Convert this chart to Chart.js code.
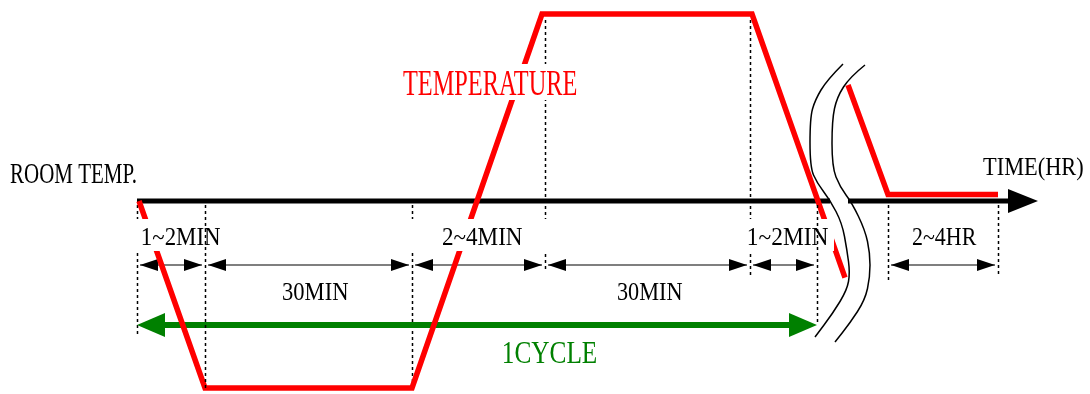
<!DOCTYPE html>
<html>
<head>
<meta charset="utf-8">
<script src="https://cdn.jsdelivr.net/npm/chart.js@4"></script>
<style>
  body { margin: 0; background: #fff; }
  #wrap { width: 1090px; height: 394px; }
</style>
</head>
<body>
<div id="wrap"><canvas id="cycleChart" width="1090" height="394"></canvas></div>
<script>
// schematic time units (not proportional to real minutes), temperature: 0 = room, 1 = high, -1 = low
const cycleTime = [2, 68, 275, 405, 615, 708];
const cycleTemp = [0, -1, -1, 1, 1, -0.41];
const soakTime = [711, 751, 861];
const soakTemp = [0.62, 0.035, 0.035];

// boundaries of the steps (dashed guides)
const markTimes = [0, 68, 275, 408, 613, 680, 751, 861];
const spanLabels = ['1~2MIN', '30MIN', '2~4MIN', '30MIN', '1~2MIN', '2~4HR'];
const spanPairs = [[0, 1], [1, 2], [2, 3], [3, 4], [4, 5], [6, 7]];
const cycleLabel = '1CYCLE';
const axisLabels = ['ROOM TEMP.', 'TIME(HR)'];
const seriesLabel = 'TEMPERATURE';

const RED = '#ff0000';
const GREEN = '#008000';
const FONT = '"Liberation Serif", "DejaVu Serif", serif';

// layout (pixels)
const axisEnd = 901;         // arrow tip, time units
const breakGap = [693, 711]; // axis interrupted here
const spanArrowY = 265;
const cycleArrowY = 325;
// dashed guide extents [top, bottom, drawOverLabels]
const guideExtent = [[205, 335, false], [205, 388, true], [205, 388, false], [20, 270, false],
                     [20, 275, false], [205, 325, true], [205, 280, false], [205, 275, false]];
// ink boxes of texts: left, right, capTop, baseline
const spanTextBox = [[142, 220, 227, 245], [282, 348, 282, 300], [442, 522, 227, 245],
                     [617, 682, 282, 300], [748, 828, 227, 245], [912, 977, 227, 245]];
// white patches behind some texts: x0, y0, x1, y1
const spanCover = [[134, 219, 222, 251], null, [409, 219, 548, 251], null, [745, 219, 834, 251], null];

// break mark, offsets from the axis point at the break
const breakLeft = [[12,-137],[-4,-121],[-16,-101],[-21,-83],[-21,-34],[-14,-18],[-1,-1],[11,22],
                   [16,49],[19,72],[16,89],[2,112],[-16,136]];
const breakRight = [[34,-136],[19,-124],[6,-104],[1,-81],[1,-34],[9,-14],[21,2],[34,29],
                    [39,52],[39,76],[34,99],[19,122],[4,141]];

function toPoints(xs, ys) {
  return xs.map((x, i) => ({ x: x, y: ys[i] }));
}

function head(ctx, tipX, y, dir, len, half) {
  ctx.beginPath();
  ctx.moveTo(tipX, y);
  ctx.lineTo(tipX - dir * len, y - half);
  ctx.lineTo(tipX - dir * len, y + half);
  ctx.closePath();
  ctx.fill();
}

function drawLabel(ctx, text, box, color) {
  const [L, R, T, B] = box;
  ctx.save();
  ctx.font = '20px ' + FONT;
  ctx.textAlign = 'left';
  ctx.textBaseline = 'alphabetic';
  const m = ctx.measureText(text);
  const inkW = m.actualBoundingBoxLeft + m.actualBoundingBoxRight;
  const capH = ctx.measureText('H').actualBoundingBoxAscent;
  ctx.translate(L, B);
  ctx.scale((R - L) / inkW, (B - T) / capH);
  ctx.fillStyle = color;
  ctx.fillText(text, m.actualBoundingBoxLeft, 0);
  ctx.restore();
}

function smoothPath(ctx, pts) {
  ctx.beginPath();
  ctx.moveTo(pts[0][0], pts[0][1]);
  for (let i = 1; i < pts.length - 1; i++) {
    const mx = (pts[i][0] + pts[i + 1][0]) / 2;
    const my = (pts[i][1] + pts[i + 1][1]) / 2;
    ctx.quadraticCurveTo(pts[i][0], pts[i][1], mx, my);
  }
  const last = pts[pts.length - 1];
  ctx.lineTo(last[0], last[1]);
  ctx.stroke();
}

function drawGuide(ctx, chart, i) {
  const x = Math.round(chart.scales.x.getPixelForValue(markTimes[i])) + 0.5;
  ctx.save();
  ctx.strokeStyle = '#000';
  ctx.lineWidth = 1.5;
  ctx.setLineDash([3, 3]);
  ctx.beginPath();
  ctx.moveTo(x, guideExtent[i][0]);
  ctx.lineTo(x, guideExtent[i][1]);
  ctx.stroke();
  ctx.restore();
}

const diagramPlugin = {
  id: 'diagram',
  beforeDatasetsDraw(chart) {
    const ctx = chart.ctx;
    const xs = chart.scales.x, ys = chart.scales.y;
    const axisY = ys.getPixelForValue(0);

    // dashed guides
    markTimes.forEach((t, i) => { if (!guideExtent[i][2]) drawGuide(ctx, chart, i); });

    ctx.save();
    // time axis with break
    ctx.strokeStyle = '#000';
    ctx.fillStyle = '#000';
    ctx.lineWidth = 5;
    const tip = xs.getPixelForValue(axisEnd);
    ctx.beginPath();
    ctx.moveTo(xs.getPixelForValue(0), axisY);
    ctx.lineTo(xs.getPixelForValue(breakGap[0]), axisY);
    ctx.moveTo(xs.getPixelForValue(breakGap[1]), axisY);
    ctx.lineTo(tip - 26, axisY);
    ctx.stroke();
    head(ctx, tip, axisY, 1, 30, 12);

    // step duration arrows
    ctx.lineWidth = 1.2;
    spanPairs.forEach(([a, b]) => {
      const x0 = xs.getPixelForValue(markTimes[a]) + 3;
      const x1 = xs.getPixelForValue(markTimes[b]) - 3;
      ctx.beginPath();
      ctx.moveTo(x0, spanArrowY);
      ctx.lineTo(x1, spanArrowY);
      ctx.stroke();
      head(ctx, x0, spanArrowY, -1, 18, 6);
      head(ctx, x1, spanArrowY, 1, 18, 6);
    });

    // one cycle arrow
    ctx.strokeStyle = GREEN;
    ctx.fillStyle = GREEN;
    ctx.lineWidth = 6;
    const c0 = xs.getPixelForValue(markTimes[0]);
    const c1 = xs.getPixelForValue(markTimes[5]);
    ctx.beginPath();
    ctx.moveTo(c0 + 20, cycleArrowY);
    ctx.lineTo(c1 - 20, cycleArrowY);
    ctx.stroke();
    head(ctx, c0, cycleArrowY, -1, 28, 12);
    head(ctx, c1, cycleArrowY, 1, 28, 12);

    // break mark
    const bx = xs.getPixelForValue(breakGap[0]) + 1;
    ctx.strokeStyle = '#000';
    ctx.lineWidth = 1.5;
    smoothPath(ctx, breakLeft.map(p => [bx + p[0], axisY + p[1]]));
    smoothPath(ctx, breakRight.map(p => [bx + p[0], axisY + p[1]]));
    ctx.restore();
  },
  afterDatasetsDraw(chart) {
    const ctx = chart.ctx;
    ctx.save();
    ctx.fillStyle = '#fff';
    spanCover.forEach(c => { if (c) ctx.fillRect(c[0], c[1], c[2] - c[0], c[3] - c[1]); });
    ctx.fillRect(400, 64, 180, 36);
    ctx.restore();

    spanLabels.forEach((s, i) => drawLabel(ctx, s, spanTextBox[i], '#000'));
    drawLabel(ctx, axisLabels[0], [10, 136, 163, 183], '#000');
    drawLabel(ctx, axisLabels[1], [983, 1083, 157, 175], '#000');
    drawLabel(ctx, seriesLabel, [403, 577, 70, 95], RED);
    drawLabel(ctx, cycleLabel, [503, 597, 341, 363], GREEN);

    markTimes.forEach((t, i) => { if (guideExtent[i][2]) drawGuide(ctx, chart, i); });
  }
};

const lineStyle = {
  showLine: true,
  borderColor: RED,
  backgroundColor: RED,
  borderWidth: 5.5,
  borderJoinStyle: 'miter',
  borderCapStyle: 'butt',
  pointRadius: 0,
  tension: 0
};

new Chart(document.getElementById('cycleChart'), {
  type: 'scatter',
  data: {
    datasets: [
      Object.assign({ label: seriesLabel, data: toPoints(cycleTime, cycleTemp) }, lineStyle),
      Object.assign({ label: seriesLabel + ' soak', data: toPoints(soakTime, soakTemp) }, lineStyle)
    ]
  },
  options: {
    responsive: false,
    animation: false,
    layout: { padding: 0 },
    plugins: { legend: { display: false }, tooltip: { enabled: false } },
    scales: {
      x: { type: 'linear', display: false, min: -137, max: 953 },
      y: { type: 'linear', display: false, min: -193 / 187, max: 201 / 187 }
    }
  },
  plugins: [diagramPlugin]
});
</script>
</body>
</html>
